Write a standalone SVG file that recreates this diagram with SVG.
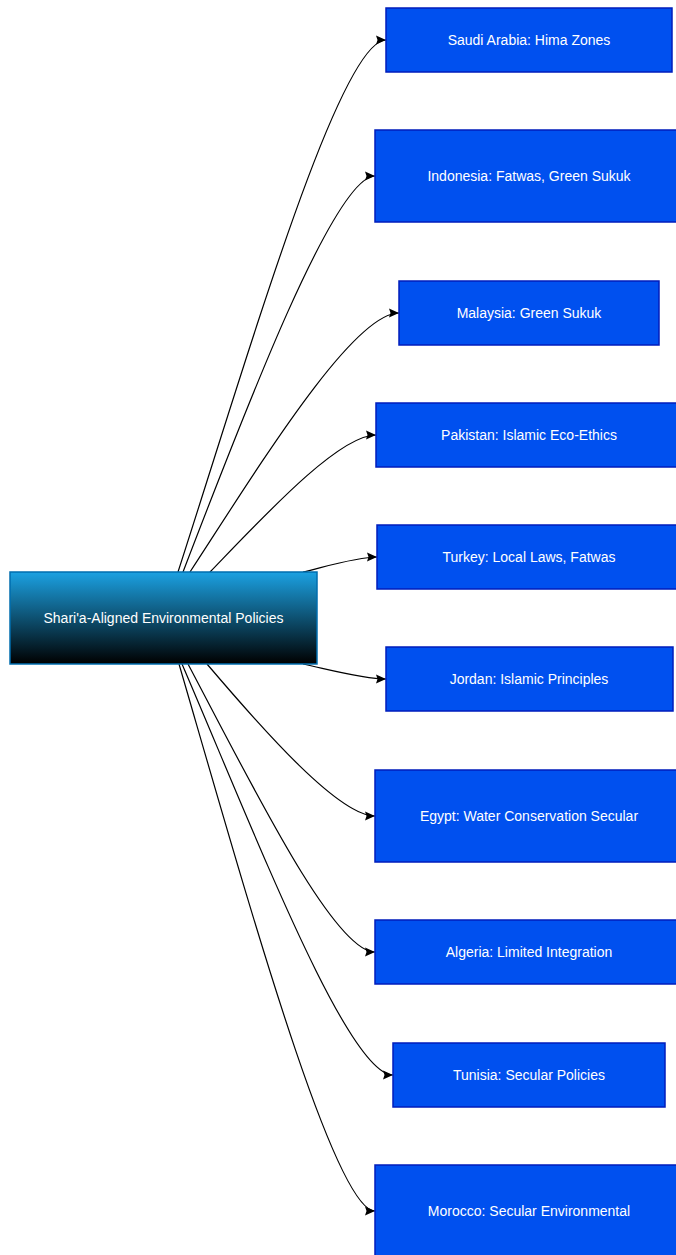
<svg xmlns="http://www.w3.org/2000/svg" width="676" height="1255" viewBox="0 0 676 1255">
  <defs>
    <linearGradient id="cg" x1="0" y1="0" x2="0" y2="1">
      <stop offset="0" stop-color="#1ba1e2"/>
      <stop offset="1" stop-color="#000000"/>
    </linearGradient>
    <marker id="arr" markerUnits="userSpaceOnUse" markerWidth="12" markerHeight="10" refX="10" refY="5" orient="auto" viewBox="0 0 12 10">
      <path d="M0,0.5 L10,5 L0,9.5 L1.5,5 Z" fill="#000"/>
    </marker>
    <style>
      .n rect { fill: #0050ef; stroke: #001dbc; stroke-width: 1.5; }
      .c rect { fill: url(#cg); stroke: #006eaf; stroke-width: 1.5; }
      text { font-family: "Liberation Sans", Arial, Helvetica, sans-serif; font-size: 14px; fill: #ffffff; text-anchor: middle; dominant-baseline: central; }
      .e path { fill: none; stroke: #000; stroke-width: 1.2; marker-end: url(#arr); }
    </style>
  </defs>
  <rect width="676" height="1255" fill="#ffffff"/>
  <g id="edges" class="e">
    <path d="M178,572 C250,349 340,40 386,40"/>
    <path d="M183,572 C247,405 335,176 375,176"/>
    <path d="M190,572 C261,463 353,313 399,313"/>
    <path d="M210,572 C266,514 339,435 376,435"/>
    <path d="M303,572 C328,566 357,557 377,557"/>
    <path d="M303,664 C331,670 364,679 386,679"/>
    <path d="M207,664 C264,731 339,816 375,816"/>
    <path d="M188,664 C252,785 334,952 375,952"/>
    <path d="M182,664 C256,836 348,1075 393,1075"/>
    <path d="M179,664 C246,894 334,1211 375,1211"/>
  </g>
  <g id="center" class="c">
    <rect x="10" y="572" width="307" height="92"/>
    <text x="163.5" y="618">Shari'a-Aligned Environmental Policies</text>
  </g>
  <g id="saudi" class="n">
    <rect x="386" y="8" width="286" height="64"/>
    <text x="529" y="40">Saudi Arabia: Hima Zones</text>
  </g>
  <g id="indonesia" class="n">
    <rect x="375" y="130" width="308" height="92"/>
    <text x="529" y="176">Indonesia: Fatwas, Green Sukuk</text>
  </g>
  <g id="malaysia" class="n">
    <rect x="399" y="281" width="260" height="64"/>
    <text x="529" y="313">Malaysia: Green Sukuk</text>
  </g>
  <g id="pakistan" class="n">
    <rect x="376" y="403" width="306" height="64"/>
    <text x="529" y="435">Pakistan: Islamic Eco-Ethics</text>
  </g>
  <g id="turkey" class="n">
    <rect x="377" y="525" width="304" height="64"/>
    <text x="529" y="557">Turkey: Local Laws, Fatwas</text>
  </g>
  <g id="jordan" class="n">
    <rect x="386" y="647" width="287" height="64"/>
    <text x="529" y="679">Jordan: Islamic Principles</text>
  </g>
  <g id="egypt" class="n">
    <rect x="375" y="770" width="308" height="92"/>
    <text x="529" y="816">Egypt: Water Conservation Secular</text>
  </g>
  <g id="algeria" class="n">
    <rect x="375" y="920" width="308" height="64"/>
    <text x="529" y="952">Algeria: Limited Integration</text>
  </g>
  <g id="tunisia" class="n">
    <rect x="393" y="1043" width="272" height="64"/>
    <text x="529" y="1075">Tunisia: Secular Policies</text>
  </g>
  <g id="morocco" class="n">
    <rect x="375" y="1165" width="308" height="92"/>
    <text x="529" y="1211">Morocco: Secular Environmental</text>
  </g>
</svg>
